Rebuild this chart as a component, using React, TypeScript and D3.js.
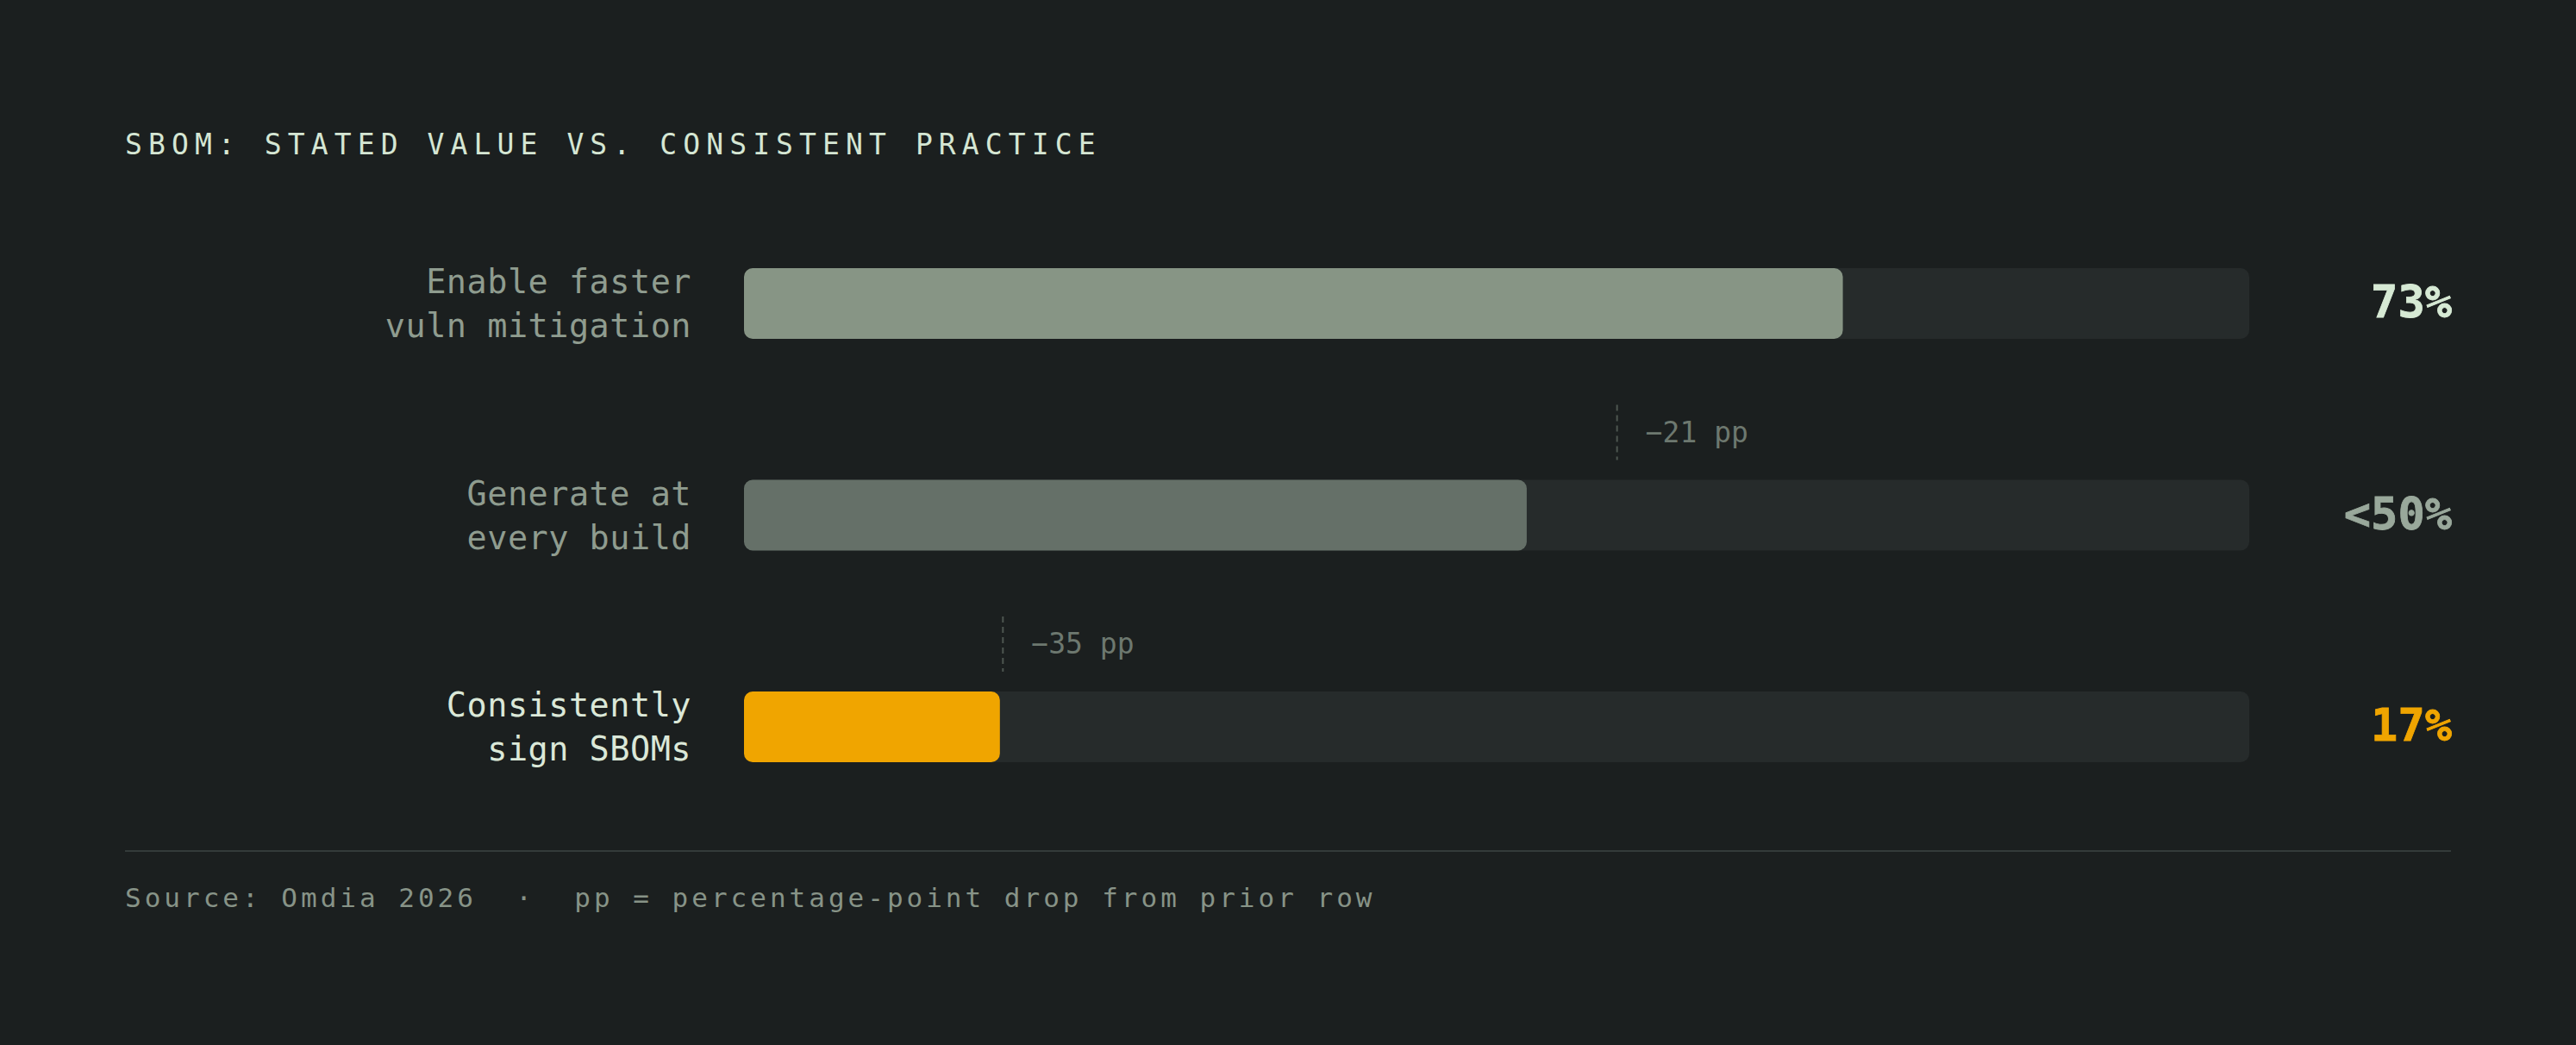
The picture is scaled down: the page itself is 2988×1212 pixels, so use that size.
import * as d3 from 'd3';

// chart data
const categories = ['vuln', 'build', 'sign'];
const labelLines = [
  ['Enable faster', 'vuln mitigation'],
  ['Generate at', 'every build'],
  ['Consistently', 'sign SBOMs'],
];
const values = [73, 52, 17];
const valueLabels = ['73%', '<50%', '17%'];
const drops = [null, 21, 35];
const dropMarkers = [null, 58, 17.2];

const title = 'SBOM: STATED VALUE VS. CONSISTENT PRACTICE';
const source = 'Source: Omdia 2026  ·  pp = percentage-point drop from prior row';

const W = 2988;
const H = 1212;
const MONO = '"DejaVu Sans Mono", "Liberation Mono", monospace';

const barColors = ['#879585', '#657068', '#f0a500'];
const labelColors = ['#8f9c8f', '#8f9c8f', '#dbe8d8'];
const valueColors = ['#d6e9d4', '#99a89b', '#f0a500'];

const App = () => {
  const x = d3.scaleLinear().domain([0, 100]).range([863, 2609]);
  const y = d3
    .scaleBand()
    .domain(categories)
    .range([311, 884])
    .paddingInner(0.666)
    .paddingOuter(0);
  const bw = y.bandwidth();

  return (
    <div style={{ position: 'absolute', left: 0, top: 0 }}>
      <svg width={W} height={H} style={{ display: 'block' }}>
        <rect width={W} height={H} fill="#1b1f1f" />

        <text
          x={145}
          y={179}
          fill="#d5e6d3"
          fontFamily={MONO}
          fontSize={33}
          letterSpacing={7.1}
        >
          {title}
        </text>

        {categories.map((c, i) => {
          const top = y(c)!;
          const mid = top + bw / 2;
          const marker = dropMarkers[i];
          return (
            <g key={c}>
              {/* row label */}
              <text
                x={802}
                textAnchor="end"
                fill={labelColors[i]}
                fontFamily={MONO}
                fontSize={38.5}
                letterSpacing={0.5}
              >
                <tspan x={802} y={mid - 12}>
                  {labelLines[i][0]}
                </tspan>
                <tspan x={802} y={mid + 39}>
                  {labelLines[i][1]}
                </tspan>
              </text>

              {/* track + bar */}
              <rect
                x={x(0)}
                y={top}
                width={x(100) - x(0)}
                height={bw}
                rx={10}
                fill="#262b2b"
              />
              <rect
                x={x(0)}
                y={top}
                width={x(values[i]) - x(0)}
                height={bw}
                rx={10}
                fill={barColors[i]}
              />

              {/* value */}
              <text
                x={2844}
                y={mid + 16}
                textAnchor="end"
                fill={valueColors[i]}
                fontFamily={MONO}
                fontWeight="bold"
                fontSize={52}
                stroke={valueColors[i]}
                strokeWidth={0.8}
              >
                {valueLabels[i]}
              </text>

              {/* drop annotation */}
              {marker != null && drops[i] != null && (
                <g>
                  <line
                    x1={x(marker)}
                    x2={x(marker)}
                    y1={top - 87}
                    y2={top - 23}
                    stroke="#4d5650"
                    strokeWidth={2}
                    strokeDasharray="7 5"
                  />
                  <text
                    x={x(marker) + 33}
                    y={top - 44}
                    fill="#6d786f"
                    fontFamily={MONO}
                    fontSize={33}
                  >
                    {`\u2212${drops[i]} pp`}
                  </text>
                </g>
              )}
            </g>
          );
        })}

        <line x1={145} x2={2843} y1={987} y2={987} stroke="#343b3a" strokeWidth={2} />

        <text
          x={145}
          y={1052}
          fill="#879387"
          fontFamily={MONO}
          fontSize={31}
          letterSpacing={4}
          style={{ whiteSpace: 'pre' }}
        >
          {source}
        </text>
      </svg>
    </div>
  );
};

export default App;
